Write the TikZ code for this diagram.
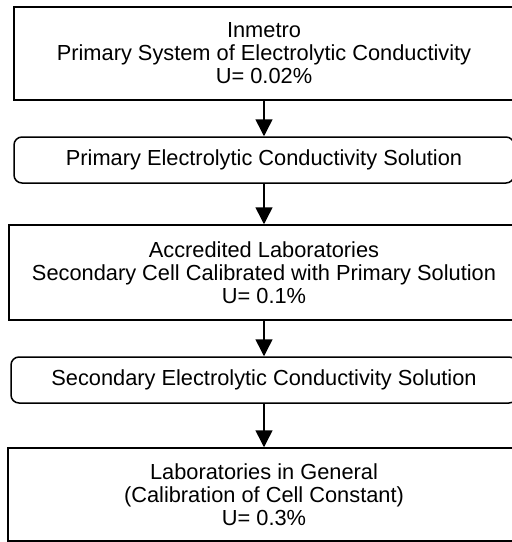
\documentclass[tikz,border=0pt]{standalone}
\usepackage{fontspec}
\setmainfont{Liberation Sans}
\usetikzlibrary{arrows.meta}
\begin{document}
\begin{tikzpicture}[x=1pt,y=-1pt,
  box/.style={draw=black, line width=1.5pt, rectangle, inner sep=0pt, align=center,
    font=\fontsize{21.8}{23}\selectfont},
  rbox/.style={box, rounded corners=8pt},
  arr/.style={draw=black, line width=1.5pt, -{Triangle[width=17pt,length=17pt]}}]
\useasboundingbox (0,0) rectangle (512,542);
\node[box, minimum width=500pt, minimum height=93pt] (b1) at (264,53.5)
  {Inmetro\\Primary System of Electrolytic Conductivity\\U= 0.02\%};
\node[rbox, minimum width=500pt, minimum height=46pt] (b2) at (264,160)
  {Primary Electrolytic Conductivity Solution};
\node[box, minimum width=510pt, minimum height=95pt] (b3) at (264,272.5)
  {Accredited Laboratories\\Secondary Cell Calibrated with Primary Solution\\U= 0.1\%};
\node[rbox, minimum width=506pt, minimum height=46pt] (b4) at (264,380)
  {Secondary Electrolytic Conductivity Solution};
\node[box, minimum width=512pt, minimum height=93pt] (b5) at (264,494.5)
  {Laboratories in General\\(Calibration of Cell Constant)\\U= 0.3\%};
\draw[arr] (b1.south) -- (b2.north);
\draw[arr] (b2.south) -- (b3.north);
\draw[arr] (b3.south) -- (b4.north);
\draw[arr] (b4.south) -- (b5.north);
\end{tikzpicture}
\end{document}
